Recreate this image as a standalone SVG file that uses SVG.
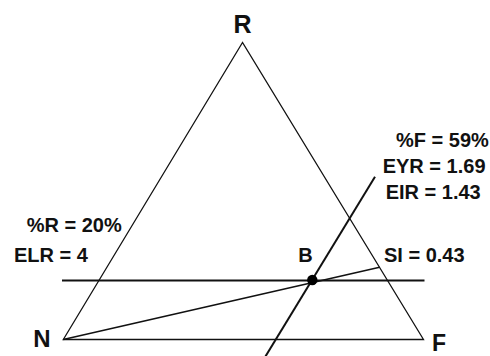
<svg xmlns="http://www.w3.org/2000/svg" width="490" height="356" viewBox="0 0 490 356">
<style>
.t{font-family:"Liberation Sans",Arial,sans-serif;font-weight:bold;fill:#111}
.lbl{font-size:20px}
.big{font-size:25px}
.thin{stroke:#111;stroke-width:1.3;fill:none}
.thick{stroke:#111;stroke-width:2;fill:none}
</style>
<rect width="490" height="356" fill="#fff"/>
<g id="triangle">
<polygon class="thin" points="242.5,42.5 63.3,339.5 423.5,339.5"/>
</g>
<g id="connectors">
<line class="thick" x1="62" y1="280.5" x2="424.5" y2="280.5"/>
<line class="thin" x1="63.3" y1="339.5" x2="379.6" y2="267.3" style="stroke-width:1.6"/>
<line class="thick" x1="375" y1="176.7" x2="264.5" y2="358"/>
</g>
<g id="node-R"><text class="t big" x="242.5" y="33" text-anchor="middle">R</text></g>
<g id="node-N"><text class="t big" x="42" y="347" text-anchor="middle" style="font-size:24px">N</text></g>
<g id="node-F"><text class="t big" x="432" y="351" style="font-size:23px">F</text></g>
<g id="node-B">
<circle cx="312.3" cy="280" r="5.2" fill="#000"/>
<text class="t lbl" x="298.3" y="261.7">B</text>
</g>
<g id="labels-left">
<text class="t lbl" x="26.7" y="231.7">%R = 20%</text>
<text class="t lbl" x="14" y="261.7">ELR = 4</text>
</g>
<g id="labels-right">
<text class="t lbl" x="396" y="147.3">%F = 59%</text>
<text class="t lbl" x="382.7" y="173.3">EYR = 1.69</text>
<text class="t lbl" x="385.7" y="199.3">EIR = 1.43</text>
<text class="t lbl" x="384" y="261.7">SI = 0.43</text>
</g>
</svg>
